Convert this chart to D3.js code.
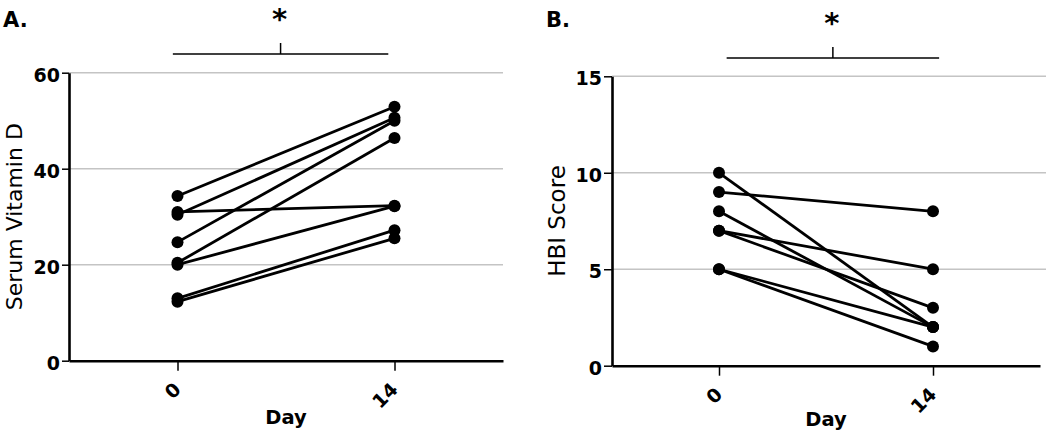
<!DOCTYPE html>
<html>
<head>
<meta charset="utf-8">
<script src="https://cdn.jsdelivr.net/npm/d3@7"></script>
<style>
  body { margin: 0; background: #fff; }
  text { font-family: "DejaVu Sans", sans-serif; }
</style>
</head>
<body>
<div id="chart"></div>
<script>
  // data
  let days = [0, 14];
  let vitDDay0  = [34.3, 30.4, 31.0, 24.7, 20.4, 20.0, 13.0, 12.3];
  let vitDDay14 = [52.9, 50.6, 32.3, 50.0, 46.4, 32.2, 27.2, 25.5];
  let hbiDay0  = [10, 9, 8, 7, 7, 5, 5];
  let hbiDay14 = [2, 8, 2, 5, 3, 2, 1];
  let vitDTicks = [0, 20, 40, 60];
  let hbiTicks = [0, 5, 10, 15];

  let svgWidth = 1050;
  let svgHeight = 437;

  let svg = d3.select("#chart")
              .append("svg")
              .attr("width", svgWidth)
              .attr("height", svgHeight);

  svg.append("rect").attr("width", svgWidth).attr("height", svgHeight).attr("fill", "#fff");

  function drawPanel(p) {
    let g = svg.append("g");

    let xScale = d3.scaleLinear().domain([-7, 21]).range([p.left, p.right]);
    let yScale = d3.scaleLinear().domain([0, p.yMax]).range([p.bottom, p.top]);

    // gridlines
    g.selectAll(".grid")
     .data(p.ticks.filter(t => t > 0))
     .enter()
       .append("line")
       .attr("x1", p.left)
       .attr("x2", p.gridEnd)
       .attr("y1", d => yScale(d))
       .attr("y2", d => yScale(d))
       .attr("stroke", "#c4c4c4")
       .attr("stroke-width", 1.6);

    // y axis
    let leftAxis = d3.axisLeft(yScale).tickValues(p.ticks).tickSize(p.tickLen).tickPadding(2).tickSizeOuter(0);
    let yAxis = g.append("g")
                 .attr("transform", `translate(${p.left},0)`)
                 .call(leftAxis);
    yAxis.select(".domain").attr("stroke", "#000").attr("stroke-width", 2.6);
    yAxis.selectAll(".tick line").attr("stroke", "#000").attr("stroke-width", 1.5);
    yAxis.selectAll(".tick text")
         .attr("font-family", "DejaVu Sans")
         .attr("font-weight", "bold")
         .attr("font-size", "19px")
         .attr("fill", "#000")
         .attr("dy", "0.45em");

    // x axis
    let bottomAxis = d3.axisBottom(xScale).tickValues(days).tickSize(10).tickSizeOuter(0);
    let xAxis = g.append("g")
                 .attr("transform", `translate(0,${p.bottom})`)
                 .call(bottomAxis);
    xAxis.select(".domain").attr("stroke", "#000").attr("stroke-width", 2.6);
    xAxis.selectAll(".tick line").attr("stroke", "#000").attr("stroke-width", 1.5);
    xAxis.selectAll(".tick text")
         .attr("font-family", "DejaVu Sans")
         .attr("font-weight", "bold")
         .attr("font-size", "19px")
         .attr("fill", "#000")
         .attr("text-anchor", "end")
         .attr("x", 0)
         .attr("y", 0)
         .attr("dy", 0)
         .attr("transform", "translate(4,30) rotate(-45)");

    // axis titles
    g.append("text")
     .attr("x", (xScale(0) + xScale(14)) / 2)
     .attr("y", p.dayY)
     .attr("text-anchor", "middle")
     .attr("font-weight", "bold")
     .attr("font-size", "19.5px")
     .text("Day");

    g.append("text")
     .attr("transform", `translate(${p.yLabelX},${(p.top + p.bottom) / 2}) rotate(-90)`)
     .attr("text-anchor", "middle")
     .attr("font-size", p.yLabelSize)
     .text(p.yLabel);

    // panel letter
    g.append("text")
     .attr("x", p.letterX)
     .attr("y", p.letterY)
     .attr("font-weight", "bold")
     .attr("font-size", "21px")
     .text(p.letter);

    // significance bracket
    let bx0 = xScale(p.bracket[0]), bx1 = xScale(p.bracket[1]);
    let bmid = (bx0 + bx1) / 2;
    g.append("line")
     .attr("x1", bx0).attr("x2", bx1)
     .attr("y1", p.bracketY).attr("y2", p.bracketY)
     .attr("stroke", "#000").attr("stroke-width", 1.5);
    g.append("line")
     .attr("x1", bmid).attr("x2", bmid)
     .attr("y1", p.bracketY - 11).attr("y2", p.bracketY)
     .attr("stroke", "#000").attr("stroke-width", 1.5);
    g.append("text")
     .attr("x", bmid - 1)
     .attr("y", p.bracketY - 25)
     .attr("text-anchor", "middle")
     .attr("font-weight", "bold")
     .attr("font-size", "29px")
     .text("*");

    // paired lines
    let pairs = p.v0.map((d, i) => [d, p.v14[i]]);
    g.append("g").selectAll("line")
     .data(pairs)
     .enter()
       .append("line")
       .attr("x1", xScale(days[0]))
       .attr("x2", xScale(days[1]))
       .attr("y1", d => yScale(d[0]))
       .attr("y2", d => yScale(d[1]))
       .attr("stroke", "#000")
       .attr("stroke-width", 2.8);

    let pts = [];
    pairs.forEach(d => {
      pts.push({x: days[0], y: d[0]});
      pts.push({x: days[1], y: d[1]});
    });
    g.append("g").selectAll("circle")
     .data(pts)
     .enter()
       .append("circle")
       .attr("cx", d => xScale(d.x))
       .attr("cy", d => yScale(d.y))
       .attr("r", 6)
       .attr("fill", "#000");
  }

  drawPanel({
    letter: "A.", letterX: 3, letterY: 27,
    left: 69, right: 503, top: 72.7, bottom: 360.7, gridEnd: 503,
    yMax: 60, ticks: vitDTicks, tickLen: 7,
    v0: vitDDay0, v14: vitDDay14,
    yLabel: "Serum Vitamin D", yLabelX: 22, yLabelSize: "22px",
    dayY: 424, bracket: [-0.3, 13.6], bracketY: 54
  });

  drawPanel({
    letter: "B.", letterX: 546, letterY: 27,
    left: 612, right: 1040, top: 76.3, bottom: 365.7, gridEnd: 1046,
    yMax: 15, ticks: hbiTicks, tickLen: 8,
    v0: hbiDay0, v14: hbiDay14,
    yLabel: "HBI Score", yLabelX: 565, yLabelSize: "23px",
    dayY: 426, bracket: [0.5, 14.4], bracketY: 58
  });
</script>
</body>
</html>
